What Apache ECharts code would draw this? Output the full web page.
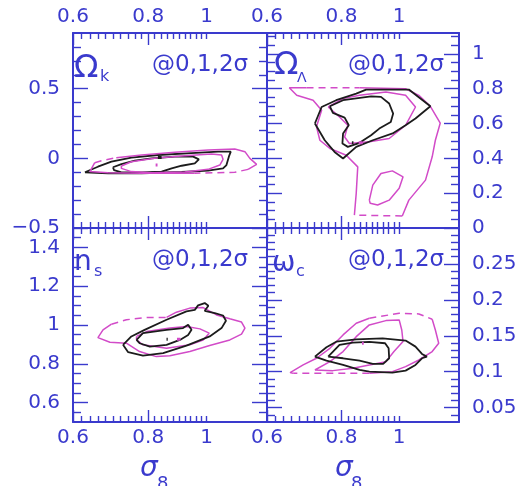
<!DOCTYPE html>
<html>
<head>
<meta charset="UTF-8">
<script src="https://cdn.jsdelivr.net/npm/echarts@6/dist/echarts.min.js"></script>
<style>
    html, body { margin: 0; padding: 0; background: #fff; }
    #main { width: 525px; height: 486px; }
</style>
</head>
<body>
<div id="main"></div>
<script type="text/javascript">
    // sigma_8 axis (log scale), shared by all panels
    var sigmaMin = 0.6, sigmaMax = 1.26;
    var sigmaLabels = [0.6, 0.8, 1];
    var sigmaMajor = [0.6, 0.8];
    var sigmaMinor = [0.62, 0.64, 0.66, 0.68, 0.70, 0.72, 0.74, 0.76, 0.78,
        0.82, 0.84, 0.86, 0.88, 0.90, 0.92, 0.94, 0.96, 0.98, 1.0];

    // y ranges and ticks for each panel
    var okRange = [-0.5, 0.9], okMajor = [-0.5, 0, 0.5], okMinor = [-0.4, -0.3, -0.2, -0.1, 0.1, 0.2, 0.3, 0.4, 0.6, 0.7, 0.8];
    var olRange = [0, 1.12], olMajor = [0, 0.2, 0.4, 0.6, 0.8, 1],
        olMinor = [0.05, 0.1, 0.15, 0.25, 0.3, 0.35, 0.45, 0.5, 0.55, 0.65, 0.7, 0.75, 0.85, 0.9, 0.95, 1.05, 1.1];
    var nsRange = [0.5, 1.5], nsMajor = [0.6, 0.8, 1, 1.2, 1.4],
        nsMinor = [0.55, 0.65, 0.7, 0.75, 0.85, 0.9, 0.95, 1.05, 1.1, 1.15, 1.25, 1.3, 1.35, 1.45];
    var wcRange = [0.03, 0.3], wcMajor = [0.05, 0.1, 0.15, 0.2, 0.25],
        wcMinor = [0.04, 0.06, 0.07, 0.08, 0.09, 0.11, 0.12, 0.13, 0.14, 0.16, 0.17, 0.18, 0.19,
            0.21, 0.22, 0.23, 0.24, 0.26, 0.27, 0.28, 0.29];

    // Omega_k contours  [sigma8, value]
    var okBlackOuter = [[0.628,-0.100],[0.660,-0.060],[0.695,-0.024],[0.750,0.005],[0.831,0.024],[0.944,0.038],[1.045,0.048],[1.097,0.048],[1.089,0.012],[1.079,-0.048],[1.065,-0.072],[1.006,-0.088],[0.909,-0.098],[0.780,-0.107],[0.686,-0.107],[0.628,-0.100]];
    var okBlackInner = [[0.699,-0.064],[0.722,-0.041],[0.760,-0.017],[0.810,0.000],[0.886,0.012],[0.950,0.012],[0.971,-0.007],[0.956,-0.036],[0.909,-0.053],[0.875,-0.072],[0.842,-0.095],[0.780,-0.100],[0.722,-0.100],[0.702,-0.084],[0.699,-0.064]];
    var okMagInner = [[0.722,-0.055],[0.750,-0.024],[0.820,0.000],[0.920,0.019],[1.019,0.031],[1.059,0.024],[1.065,-0.007],[1.052,-0.048],[1.006,-0.079],[0.920,-0.098],[0.810,-0.103],[0.750,-0.095],[0.722,-0.072],[0.722,-0.055]];
    var okMagOuter1 = [[0.708,0.005],[0.780,0.024],[0.886,0.043],[1.006,0.060],[1.114,0.067],[1.158,0.048],[1.180,0.000],[1.211,-0.043],[1.172,-0.079]];
    var okMagOuter2 = [[0.956,-0.107],[0.780,-0.107],[0.686,-0.103],[0.640,-0.095],[0.652,-0.031]];
    var okMagDash1 = [[1.172,-0.079],[1.114,-0.100],[0.956,-0.107]];
    var okMagDash2 = [[0.652,-0.031],[0.669,-0.017],[0.708,0.005]];
    var okBestBlack = [[0.830,0.007],[0.842,0.007]];
    var okBestMag = [[0.823,-0.048],[0.829,-0.048]];

    // Omega_Lambda contours
    var olBlackOuter = [[0.722,0.600],[0.741,0.695],[0.784,0.734],[0.847,0.772],[0.880,0.795],[1.038,0.795],[1.128,0.699],[1.065,0.629],[1.025,0.590],[0.975,0.543],[0.903,0.504],[0.847,0.466],[0.805,0.399],[0.779,0.437],[0.750,0.504],[0.722,0.600]];
    var olBlackInner = [[0.765,0.699],[0.805,0.734],[0.897,0.756],[0.932,0.753],[0.962,0.715],[0.977,0.657],[0.968,0.609],[0.926,0.571],[0.897,0.533],[0.858,0.489],[0.820,0.466],[0.803,0.485],[0.805,0.543],[0.823,0.590],[0.810,0.634],[0.774,0.661],[0.765,0.699]];
    var olMagInner = [[0.760,0.695],[0.794,0.638],[0.820,0.590],[0.810,0.523],[0.825,0.485],[0.891,0.495],[0.962,0.514],[1.025,0.590],[1.065,0.695],[1.025,0.762],[0.950,0.781],[0.858,0.762],[0.805,0.743],[0.760,0.695]];
    var olMagIsland = [[0.891,0.160],[0.903,0.246],[0.932,0.313],[0.974,0.328],[1.015,0.294],[1.000,0.228],[0.962,0.160],[0.920,0.132],[0.894,0.142],[0.891,0.160]];
    var olMagOuter1 = [[0.858,0.806],[1.025,0.800],[1.079,0.762],[1.128,0.699],[1.172,0.603],[1.150,0.504],[1.136,0.409],[1.107,0.275],[1.038,0.160],[1.012,0.069]];
    var olMagOuter2 = [[0.841,0.074],[0.847,0.199],[0.852,0.351],[0.815,0.418],[0.765,0.457],[0.736,0.504],[0.7265,0.581],[0.741,0.676],[0.717,0.734],[0.673,0.762],[0.654,0.806],[0.699,0.806]];
    var olMagDash1 = [[1.012,0.069],[0.841,0.074]];
    var olMagDash2 = [[0.699,0.806],[0.858,0.806]];
    var olBestBlack = [[0.833,0.489],[0.838,0.489]];
    var olBestMag = [[0.855,0.489],[0.868,0.489]];

    // n_s contours
    var nsBlackOuter = [[0.7265,0.898],[0.750,0.941],[0.789,0.975],[0.858,1.027],[0.926,1.070],[0.956,1.078],[0.968,1.101],[0.993,1.113],[1.007,1.099],[0.993,1.073],[1.032,1.061],[1.065,1.049],[1.077,1.022],[1.059,0.984],[1.012,0.941],[0.926,0.894],[0.847,0.855],[0.784,0.842],[0.741,0.860],[0.7265,0.898]];
    var nsBlackInner = [[0.765,0.923],[0.784,0.958],[0.858,0.975],[0.914,0.984],[0.932,1.001],[0.944,0.975],[0.932,0.949],[0.903,0.923],[0.858,0.898],[0.805,0.889],[0.774,0.906],[0.765,0.923]];
    var nsMagInner = [[0.765,0.941],[0.795,0.966],[0.869,0.984],[0.926,0.992],[0.975,0.980],[1.010,0.958],[0.987,0.923],[0.938,0.898],[0.858,0.880],[0.784,0.898],[0.765,0.923],[0.765,0.941]];
    var nsMagOuter1 = [[0.858,1.039],[0.891,1.066],[0.938,1.087],[0.987,1.090],[1.039,1.052],[1.093,1.032],[1.143,1.015],[1.158,0.984],[1.143,0.953],[1.093,0.923],[1.012,0.894],[0.938,0.863],[0.869,0.842],[0.825,0.837],[0.774,0.863],[0.736,0.906],[0.691,0.911],[0.660,0.935],[0.673,0.975],[0.695,1.004]];
    var nsMagDash1 = [[0.695,1.004],[0.736,1.027],[0.795,1.039],[0.858,1.039]];
    var nsBestBlack = [[0.858,0.927],[0.862,0.927]];
    var nsBestMag = [[0.893,0.927],[0.905,0.927]];

    // omega_c contours
    var wcBlackOuter = [[0.722,0.1210],[0.755,0.1340],[0.784,0.1418],[0.847,0.1451],[0.938,0.1465],[1.025,0.1433],[1.065,0.1349],[1.092,0.1247],[1.113,0.1210],[1.092,0.1187],[1.065,0.1094],[1.025,0.1015],[0.974,0.0987],[0.891,0.1001],[0.858,0.1024],[0.805,0.1094],[0.755,0.1154],[0.722,0.1210]];
    var wcBlackInner = [[0.760,0.1210],[0.794,0.1373],[0.836,0.1405],[0.891,0.1414],[0.947,0.1396],[0.960,0.1326],[0.962,0.1187],[0.940,0.1108],[0.903,0.1108],[0.858,0.1154],[0.805,0.1187],[0.760,0.1210]];
    var wcMagInner = [[0.722,0.1024],[0.765,0.1140],[0.805,0.1280],[0.847,0.1488],[0.891,0.1651],[0.950,0.1711],[1.000,0.1721],[1.010,0.1581],[1.015,0.1419],[0.980,0.1280],[0.950,0.1140],[0.891,0.1094],[0.836,0.1048],[0.774,0.1015],[0.722,0.1024]];
    var wcMagOuter1 = [[1.136,0.1730],[1.150,0.1581],[1.165,0.1396],[1.136,0.1280],[1.079,0.1163],[1.025,0.1071],[0.974,0.1001],[0.891,0.0978]];
    var wcMagOuter2 = [[0.664,0.0978],[0.656,0.0987],[0.690,0.1094],[0.7265,0.1187],[0.765,0.1326],[0.805,0.1512],[0.847,0.1674],[0.891,0.1744]];
    var wcMagDash1 = [[0.891,0.1744],[1.000,0.1813],[1.079,0.1804],[1.136,0.1730]];
    var wcMagDash2 = [[0.891,0.0978],[0.755,0.0978],[0.664,0.0978]];
    var wcBestMag = [[0.866,0.1396],[0.872,0.1396]];

    var confText = '@0,1,2\u03c3';

    var BLUE = '#3a3acd';
    var BLACK = '#1c1c1c';
    var MAGENTA = '#d24bc8';
    var FONT = 'DejaVu Sans';

    var lg = function (v) { return Math.log10(v); };
    var toXY = function (pts) {
        return pts.map(function (p) { return [lg(p[0]), p[1]]; });
    };
    var fmtSigma = function (v) { return String(parseFloat(Math.pow(10, v).toFixed(2))); };
    var fmtY = function (v) { return String(parseFloat(v.toFixed(3))).replace('-', '\u2212'); };

    var panels = [
        {grid: {left: 73, top: 33, width: 194, height: 195}, range: okRange, major: okMajor, minor: okMinor, ySide: 'left', xSide: 'top',
            solid: [[okBlackOuter, BLACK], [okBlackInner, BLACK], [okMagInner, MAGENTA], [okMagOuter1, MAGENTA], [okMagOuter2, MAGENTA]],
            dashed: [okMagDash1, okMagDash2], best: [[okBestBlack, BLACK], [okBestMag, MAGENTA]]},
        {grid: {left: 267, top: 33, width: 192, height: 195}, range: olRange, major: olMajor, minor: olMinor, ySide: 'right', xSide: 'top',
            solid: [[olMagOuter1, MAGENTA], [olMagOuter2, MAGENTA], [olMagInner, MAGENTA], [olMagIsland, MAGENTA], [olBlackOuter, BLACK], [olBlackInner, BLACK]],
            dashed: [olMagDash1, olMagDash2], best: [[olBestBlack, BLACK], [olBestMag, MAGENTA]]},
        {grid: {left: 73, top: 228, width: 194, height: 194}, range: nsRange, major: nsMajor, minor: nsMinor, ySide: 'left', xSide: 'bottom',
            solid: [[nsMagOuter1, MAGENTA], [nsMagInner, MAGENTA], [nsBlackOuter, BLACK], [nsBlackInner, BLACK]],
            dashed: [nsMagDash1], best: [[nsBestBlack, BLACK], [nsBestMag, MAGENTA]]},
        {grid: {left: 267, top: 228, width: 192, height: 194}, range: wcRange, major: wcMajor, minor: wcMinor, ySide: 'right', xSide: 'bottom',
            solid: [[wcMagOuter1, MAGENTA], [wcMagOuter2, MAGENTA], [wcMagInner, MAGENTA], [wcBlackOuter, BLACK], [wcBlackInner, BLACK]],
            dashed: [wcMagDash1, wcMagDash2], best: [[wcBestMag, MAGENTA]]}
    ];

    var makeX = function (gi, pos, isMajor, showLabel) {
        return {
            type: 'value', gridIndex: gi, position: pos,
            min: lg(sigmaMin), max: lg(sigmaMax),
            axisLine: {show: isMajor, onZero: false, lineStyle: {color: BLUE, width: 2}},
            axisTick: {show: true, inside: true, length: isMajor ? 12 : 6,
                customValues: (isMajor ? sigmaMajor : sigmaMinor).map(lg),
                lineStyle: {color: BLUE, width: 1.4}},
            axisLabel: {show: showLabel, customValues: sigmaLabels.map(lg), formatter: fmtSigma,
                color: BLUE, fontSize: 20, fontFamily: FONT, margin: 6},
            splitLine: {show: false}
        };
    };

    var makeY = function (gi, p, pos, isMajor, showLabel) {
        return {
            type: 'value', gridIndex: gi, position: pos,
            min: p.range[0], max: p.range[1],
            axisLine: {show: isMajor, onZero: false, lineStyle: {color: BLUE, width: 2}},
            axisTick: {show: true, inside: true, length: isMajor ? 15 : 8,
                customValues: isMajor ? p.major : p.minor,
                lineStyle: {color: BLUE, width: 1.4}},
            axisLabel: {show: showLabel, customValues: p.major, formatter: fmtY,
                color: BLUE, fontSize: 20, fontFamily: FONT, margin: 13},
            splitLine: {show: false}
        };
    };

    var lineSeries = function (gi, pts, color, dashed, width) {
        return {
            type: 'line', xAxisIndex: gi * 4, yAxisIndex: gi * 4,
            data: toXY(pts), showSymbol: false, symbol: 'none', silent: true,
            lineStyle: {color: color, width: width, type: dashed ? [7, 5] : 'solid'},
            z: 3
        };
    };

    var grids = [], xAxes = [], yAxes = [], series = [];
    panels.forEach(function (p, gi) {
        var g = p.grid;
        grids.push({left: g.left, top: g.top, width: g.width, height: g.height, outerBoundsMode: 'none', containLabel: false});
        xAxes.push(makeX(gi, 'bottom', true, p.xSide === 'bottom'));
        xAxes.push(makeX(gi, 'bottom', false, false));
        xAxes.push(makeX(gi, 'top', true, p.xSide === 'top'));
        xAxes.push(makeX(gi, 'top', false, false));
        yAxes.push(makeY(gi, p, 'left', true, p.ySide === 'left'));
        yAxes.push(makeY(gi, p, 'left', false, false));
        yAxes.push(makeY(gi, p, 'right', true, p.ySide === 'right'));
        yAxes.push(makeY(gi, p, 'right', false, false));
        p.solid.forEach(function (s) {
            series.push(lineSeries(gi, s[0], s[1], false, s[1] === BLACK ? 1.8 : 1.5));
        });
        p.dashed.forEach(function (d) {
            series.push(lineSeries(gi, d, MAGENTA, true, 1.5));
        });
        p.best.forEach(function (b) {
            series.push(lineSeries(gi, b[0], b[1], false, 3));
        });
    });

    // panel labels and axis names
    var txt = function (text, left, top, size, style) {
        return {text: text, left: left, top: top, padding: 0,
            textStyle: {color: BLUE, fontSize: size, fontFamily: FONT, fontWeight: 'normal', fontStyle: style || 'normal'}};
    };
    var titles = [
        txt('\u03a9', 74, 53, 32), txt('k', 100, 69, 16),
        txt('\u03a9', 274, 50, 32), txt('\u039b', 297, 71, 14),
        txt('n', 74, 249, 28), txt('s', 94, 264, 16),
        txt('\u03c9', 272, 250, 28), txt('c', 296, 264, 16),
        txt(confText, 152, 54, 23), txt(confText, 348, 54, 23),
        txt(confText, 152, 249, 23), txt(confText, 348, 249, 23),
        txt('\u03c3', 140, 455, 28, 'italic'), txt('8', 157, 475, 18),
        txt('\u03c3', 335, 455, 28, 'italic'), txt('8', 351, 475, 18)
    ];

    var chart = echarts.init(document.getElementById('main'), null, {renderer: 'canvas'});
    chart.setOption({
        backgroundColor: '#fff',
        animation: false,
        title: titles,
        grid: grids,
        xAxis: xAxes,
        yAxis: yAxes,
        series: series
    });
</script>
</body>
</html>
